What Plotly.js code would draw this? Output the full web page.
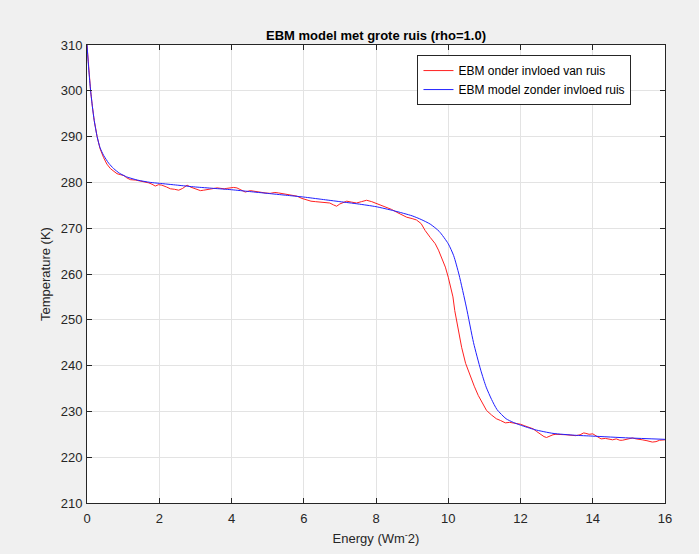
<!DOCTYPE html>
<html>
<head>
<meta charset="utf-8">
<script src="https://cdn.plot.ly/plotly-3.0.1.min.js"></script>
<style>html,body{margin:0;padding:0;background:#f0f0f0;}#chart{width:699px;height:554px;}</style>
</head>
<body>
<div id="chart"></div>
<script>
var chartTitle = "EBM model met grote ruis (rho=1.0)";
var xTitle = "Energy (Wm<sup>-</sup>2)";
var yTitle = "Temperature (K)";
var seriesNames = ["EBM onder invloed van ruis", "EBM model zonder invloed ruis"];

var noiseX = [0,0.05,0.1,0.15,0.2,0.28,0.36,0.46,0.55,0.65,0.75,0.83,0.92,1.02,1.1,1.2,1.35,1.48,1.6,1.71,1.8,1.89,1.98,2.07,2.2,2.31,2.42,2.54,2.65,2.77,2.86,2.95,3.05,3.14,3.23,3.32,3.41,3.5,3.6,3.7,3.8,3.87,3.97,4.06,4.15,4.25,4.38,4.52,4.66,4.8,4.93,5.07,5.2,5.3,5.42,5.53,5.67,5.81,5.95,6.08,6.2,6.32,6.45,6.58,6.72,6.82,6.91,7.0,7.1,7.19,7.32,7.46,7.6,7.74,7.88,8.02,8.15,8.29,8.43,8.57,8.7,8.85,9.0,9.12,9.25,9.36,9.5,9.64,9.73,9.82,9.92,10.0,10.07,10.13,10.18,10.25,10.37,10.48,10.6,10.72,10.83,10.95,11.06,11.2,11.33,11.45,11.58,11.7,11.81,11.9,12.0,12.1,12.2,12.35,12.45,12.55,12.65,12.72,12.8,12.9,12.98,13.1,13.26,13.4,13.53,13.65,13.75,13.81,13.9,14.0,14.1,14.23,14.35,14.45,14.55,14.65,14.75,14.82,14.95,15.1,15.2,15.3,15.37,15.5,15.65,15.75,15.85,16.0];
var noiseT = [310,304.5,300,296.5,293.5,290,287.4,285.4,284.0,283.0,282.3,281.9,281.7,281.5,281.0,280.6,280.5,280.3,280.2,279.9,279.6,279.2,279.5,279.4,279.0,278.6,278.5,278.3,278.7,279.4,279.0,278.7,278.5,278.2,278.3,278.4,278.5,278.6,278.8,278.7,278.6,278.7,278.8,278.9,278.8,278.4,277.9,278.2,278.0,277.9,277.7,277.6,277.8,277.7,277.5,277.4,277.2,277.0,276.5,276.1,275.9,275.8,275.7,275.6,275.5,275.1,274.8,275.3,275.7,275.9,275.7,275.5,275.8,276.1,275.8,275.4,275.0,274.6,274.1,273.5,273.0,272.4,272.1,271.8,271.0,269.5,268.0,266.6,265.2,263.4,261.5,259.3,257.0,255.0,252.0,249.0,244.0,240.5,237.8,235.5,233.5,231.8,230.2,229.2,228.4,228.0,227.5,227.6,227.5,227.4,227.2,226.9,226.6,226.2,225.6,225.0,224.5,224.3,224.6,224.9,225.0,225.0,224.9,224.8,224.7,224.9,225.3,225.2,225.0,225.1,224.6,224.0,224.1,223.9,223.8,224.0,223.7,223.7,223.9,224.2,224.0,223.8,223.8,223.6,223.3,223.4,223.7,223.8];

var modelX = [0,0.05,0.1,0.15,0.2,0.28,0.36,0.46,0.6,0.74,0.9,1.1,1.4,1.75,2.0,2.5,3.0,3.5,4.0,4.5,5.0,5.5,6.0,6.5,7.0,7.5,8.0,8.5,9.0,9.25,9.5,9.75,10.0,10.15,10.3,10.5,10.7,10.9,11.05,11.2,11.35,11.6,11.8,12.0,12.4,12.9,13.5,14.0,15.0,16.0];
var modelT = [310,304.5,300,296.5,293.5,290,287.6,285.9,284.2,283.0,282.0,281.2,280.5,280.0,279.8,279.4,279.0,278.7,278.4,278.0,277.6,277.2,276.8,276.3,275.8,275.3,274.7,273.8,272.7,271.9,270.9,269.3,266.6,264.0,259.8,252.8,245.0,239.0,235.3,232.6,230.4,228.4,227.6,227.0,226.0,225.2,224.8,224.6,224.2,223.9];

var xTicks = [0,2,4,6,8,10,12,14,16];
var yTicks = [210,220,230,240,250,260,270,280,290,300,310];

var font = "Liberation Sans, Arial, Helvetica, sans-serif";
var ink = "#262626";

var traces = [
  {x: noiseX, y: noiseT, name: seriesNames[0], type: "scatter", mode: "lines",
   line: {color: "#ff2020", width: 1}},
  {x: modelX, y: modelT, name: seriesNames[1], type: "scatter", mode: "lines",
   line: {color: "#2020ff", width: 1, shape: "spline", smoothing: 0.6}}
];

var axisCommon = {
  showline: true, mirror: "ticks", linecolor: ink, linewidth: 1,
  ticks: "inside", ticklen: 5, tickcolor: ink, tickwidth: 1,
  showgrid: true, gridcolor: "#e3e3e3", gridwidth: 1,
  zeroline: false, tickfont: {family: font, size: 13, color: ink}
};

var layout = {
  width: 699, height: 554,
  paper_bgcolor: "#f0f0f0", plot_bgcolor: "#ffffff",
  margin: {l: 86.5, r: 33.5, t: 45, b: 51, pad: 0},
  title: {text: "<b>" + chartTitle + "</b>", font: {family: font, size: 13, color: "#000"},
          x: 0.5, xref: "paper", y: 1 - 35/554, yref: "container", yanchor: "middle"},
  xaxis: Object.assign({}, axisCommon, {
    range: [0, 16], tickvals: xTicks, ticktext: xTicks.map(String), ticklabelstandoff: 3,
    title: {text: xTitle, font: {family: font, size: 13, color: ink}, standoff: 9}
  }),
  yaxis: Object.assign({}, axisCommon, {
    range: [210, 310], tickvals: yTicks, ticktext: yTicks.map(String), ticklabelstandoff: 1,
    title: {text: yTitle, font: {family: font, size: 13, color: ink}, standoff: 7}
  }),
  legend: {x: 0.942, xanchor: "right", y: 0.978, yanchor: "top",
    bgcolor: "#ffffff", bordercolor: ink, borderwidth: 1,
    font: {family: font, size: 12, color: "#000"}, tracegroupgap: 0, itemwidth: 30},
  showlegend: true
};

Plotly.newPlot("chart", traces, layout, {staticPlot: true, displayModeBar: false});
</script>
</body>
</html>
